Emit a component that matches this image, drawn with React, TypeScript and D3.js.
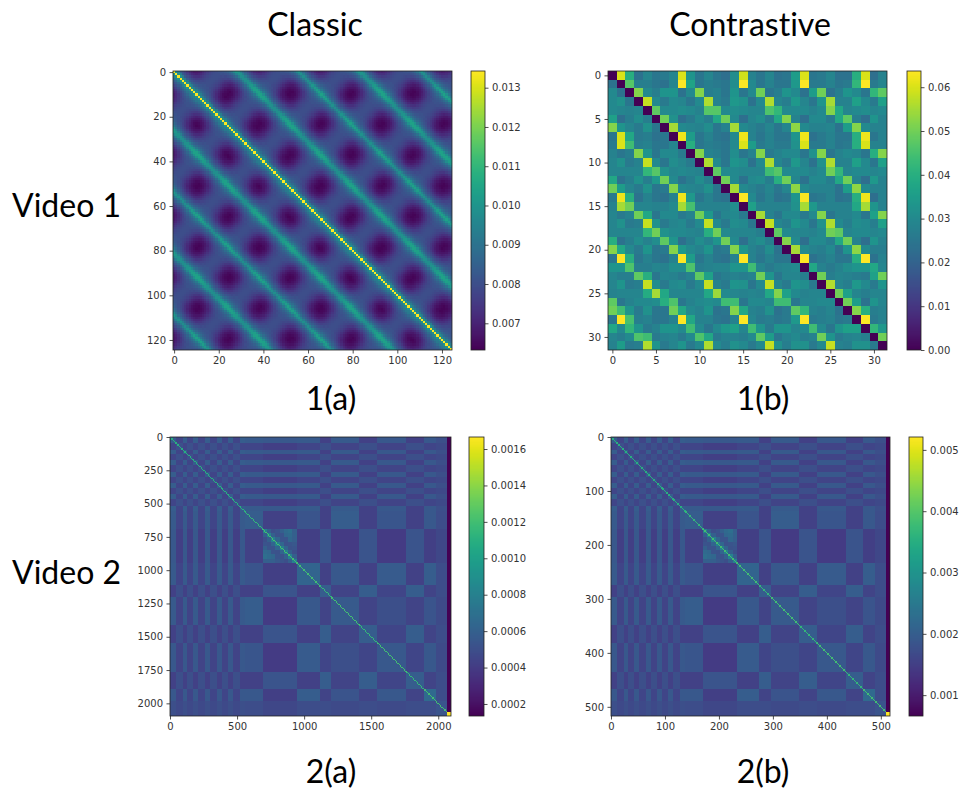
import React, { useEffect, useRef } from 'react';
import * as d3 from 'd3';

// 1(a): one period of the repeating pattern, read across the lag between frames
const classicTrough = [98, 93, 87, 83, 80, 77, 74, 71, 69, 67, 66, 65, 64, 64, 64, 64, 65, 66, 67, 69, 71, 74, 77, 80, 83, 87, 93, 98];
const classicRidge = [104, 99, 92, 88, 85, 83, 82, 81, 81, 80, 80, 80, 80, 80, 80, 80, 80, 80, 80, 81, 81, 82, 83, 85, 88, 92, 99, 104];
const classicSumWeight = [0, 0.02, 0.06, 0.13, 0.22, 0.33, 0.45, 0.58, 0.7, 0.8, 0.88, 0.94, 0.98, 1, 1, 0.98, 0.94, 0.88, 0.8, 0.7, 0.58, 0.45, 0.33, 0.22, 0.13, 0.06, 0.02, 0];
const classicMainLag = [136, 99, 93];

// 1(b): read cell by cell, in units of 0.001
const contrastiveRows = [
  [0, 60, 40, 24, 29, 25, 26, 29, 60, 33, 25, 29, 25, 23, 31, 59, 28, 25, 29, 24, 25, 35, 60, 25, 26, 29, 24, 24, 40, 60, 23, 28],
  [24, 0, 47, 27, 27, 25, 24, 29, 64, 37, 25, 27, 26, 25, 31, 64, 30, 25, 28, 25, 25, 34, 64, 26, 26, 28, 25, 26, 42, 64, 26, 29],
  [30, 24, 0, 52, 30, 27, 33, 33, 24, 30, 52, 27, 28, 25, 33, 25, 30, 50, 25, 27, 33, 30, 24, 35, 50, 24, 27, 33, 30, 25, 42, 48],
  [30, 32, 25, 0, 58, 30, 26, 30, 29, 25, 30, 56, 28, 26, 34, 32, 24, 30, 56, 29, 27, 34, 29, 25, 33, 55, 28, 28, 36, 30, 26, 36],
  [30, 29, 28, 29, 0, 48, 30, 30, 31, 30, 28, 47, 47, 30, 31, 30, 29, 29, 46, 42, 30, 30, 30, 28, 30, 52, 38, 29, 30, 31, 29, 30],
  [36, 23, 27, 31, 27, 0, 50, 32, 23, 26, 30, 27, 38, 50, 30, 23, 29, 31, 26, 38, 52, 28, 23, 30, 30, 26, 38, 48, 27, 23, 33, 28],
  [52, 33, 29, 26, 32, 25, 0, 55, 30, 29, 28, 31, 25, 28, 55, 30, 28, 26, 29, 25, 29, 53, 30, 28, 28, 29, 24, 35, 52, 30, 28, 28],
  [25, 60, 38, 26, 27, 24, 25, 0, 62, 35, 25, 28, 25, 24, 30, 62, 28, 25, 28, 25, 25, 33, 62, 24, 26, 28, 25, 25, 40, 62, 25, 28],
  [26, 60, 44, 27, 28, 25, 25, 29, 0, 40, 25, 27, 26, 25, 30, 60, 35, 26, 28, 26, 26, 32, 60, 26, 26, 28, 25, 26, 40, 60, 28, 28],
  [28, 25, 27, 52, 33, 25, 30, 30, 26, 0, 52, 28, 27, 25, 31, 25, 28, 52, 26, 28, 30, 30, 25, 32, 52, 25, 28, 30, 29, 25, 40, 52],
  [29, 32, 26, 28, 58, 30, 25, 31, 29, 26, 0, 56, 30, 25, 33, 31, 24, 30, 56, 29, 26, 34, 29, 24, 32, 56, 28, 28, 36, 30, 25, 36],
  [29, 29, 29, 29, 42, 47, 32, 29, 30, 29, 28, 0, 48, 30, 30, 29, 29, 29, 44, 47, 30, 30, 30, 28, 30, 50, 42, 29, 30, 30, 29, 30],
  [38, 24, 27, 32, 27, 34, 50, 30, 24, 27, 31, 27, 0, 50, 30, 24, 30, 31, 27, 40, 50, 29, 24, 30, 30, 27, 38, 50, 28, 23, 34, 28],
  [50, 35, 29, 26, 32, 25, 26, 52, 30, 29, 28, 32, 25, 0, 55, 30, 28, 26, 29, 25, 29, 53, 30, 28, 28, 28, 24, 35, 53, 30, 28, 28],
  [26, 62, 40, 24, 28, 25, 24, 28, 62, 34, 25, 28, 25, 24, 0, 64, 30, 25, 28, 24, 25, 33, 63, 25, 26, 28, 24, 25, 40, 62, 23, 28],
  [28, 55, 50, 29, 29, 28, 28, 30, 55, 45, 28, 28, 28, 28, 31, 0, 36, 28, 28, 28, 28, 32, 55, 34, 28, 28, 28, 28, 38, 55, 33, 28],
  [29, 26, 28, 50, 38, 25, 30, 30, 26, 28, 50, 34, 25, 29, 30, 26, 0, 55, 28, 25, 30, 30, 26, 30, 52, 25, 28, 28, 30, 25, 36, 52],
  [29, 32, 26, 27, 58, 32, 26, 29, 30, 26, 30, 58, 30, 26, 31, 30, 25, 0, 58, 29, 27, 33, 30, 25, 32, 56, 30, 27, 31, 30, 27, 36],
  [29, 29, 29, 29, 42, 50, 32, 30, 30, 29, 28, 40, 50, 30, 29, 29, 29, 27, 0, 48, 30, 29, 29, 28, 30, 50, 48, 29, 30, 30, 29, 30],
  [40, 24, 27, 31, 28, 31, 48, 33, 23, 27, 31, 28, 33, 50, 30, 23, 29, 31, 27, 0, 52, 30, 23, 30, 30, 27, 38, 50, 28, 23, 33, 28],
  [52, 38, 30, 26, 33, 25, 26, 52, 34, 30, 28, 33, 25, 26, 52, 33, 28, 26, 31, 24, 0, 55, 30, 28, 27, 30, 24, 33, 53, 30, 27, 27],
  [25, 64, 40, 25, 28, 25, 24, 28, 64, 35, 25, 28, 25, 24, 28, 64, 28, 25, 28, 25, 25, 0, 64, 24, 26, 28, 25, 25, 40, 64, 24, 28],
  [33, 33, 46, 27, 27, 29, 28, 31, 31, 46, 27, 28, 29, 29, 33, 33, 44, 29, 26, 28, 29, 30, 0, 38, 28, 26, 28, 31, 33, 33, 38, 29],
  [29, 27, 27, 48, 40, 25, 29, 28, 26, 28, 48, 36, 25, 27, 28, 27, 28, 50, 33, 25, 29, 29, 27, 0, 50, 27, 29, 28, 27, 26, 36, 50],
  [29, 33, 26, 27, 58, 31, 26, 30, 31, 26, 30, 58, 28, 26, 33, 32, 25, 30, 58, 29, 26, 33, 31, 26, 0, 56, 29, 27, 34, 30, 26, 33],
  [28, 29, 29, 29, 39, 55, 38, 29, 29, 29, 29, 38, 54, 30, 29, 28, 29, 28, 38, 52, 36, 30, 28, 29, 29, 0, 50, 36, 29, 27, 29, 29],
  [48, 25, 28, 30, 30, 31, 40, 46, 25, 28, 30, 31, 30, 44, 44, 25, 30, 30, 29, 44, 44, 25, 29, 29, 30, 30, 0, 50, 35, 24, 33, 29],
  [50, 44, 33, 26, 32, 25, 25, 50, 38, 30, 28, 33, 24, 25, 52, 38, 28, 27, 32, 24, 26, 48, 42, 28, 27, 29, 24, 0, 52, 40, 27, 28],
  [25, 64, 45, 27, 28, 25, 25, 28, 64, 38, 28, 28, 25, 24, 28, 64, 29, 26, 27, 25, 26, 34, 64, 26, 27, 28, 25, 26, 0, 64, 26, 28],
  [38, 30, 42, 33, 26, 28, 33, 33, 30, 44, 30, 25, 30, 34, 36, 29, 44, 33, 26, 33, 33, 29, 30, 44, 30, 25, 33, 36, 36, 0, 42, 34],
  [29, 27, 30, 46, 44, 26, 28, 29, 26, 30, 46, 38, 26, 28, 28, 27, 30, 48, 35, 25, 28, 30, 27, 28, 50, 33, 26, 28, 29, 27, 0, 50],
  [28, 35, 26, 27, 56, 33, 26, 29, 33, 26, 30, 56, 30, 27, 32, 30, 26, 30, 58, 32, 27, 32, 32, 26, 30, 58, 28, 27, 32, 32, 26, 0],
];

// 2(a)/2(b): the video's segments (frame numbers on the 2(a) axis) and their classes
const segmentEnds = [45, 97, 126, 171, 208, 260, 297, 349, 386, 431, 468, 520, 557, 691, 944, 1115, 1204, 1412, 1545, 1761, 1895, 1984, 2095];
const segmentClasses = ['L', 'D', 'L', 'D', 'L', 'D', 'L', 'D', 'L', 'D', 'L', 'D', 'L', 'E', 'F', 'G', 'H', 'I', 'H', 'J', 'H', 'K', 'M'];
const classNames = ['L', 'D', 'E', 'F', 'G', 'H', 'I', 'J', 'K', 'M'];
// class against class, in units of 0.0001 on the 2(a) colour bar
const classLevels = [
  [5.8, 4.5, 5.6, 5.5, 5.6, 4.3, 5.6, 5.5, 5.5, 5.0],
  [4.5, 5.1, 4.5, 4.2, 4.5, 5.0, 4.4, 4.4, 4.5, 4.7],
  [5.6, 4.5, 5.8, 4.3, 5.3, 4.3, 5.8, 5.4, 5.5, 4.9],
  [5.5, 4.2, 4.3, 5.2, 4.2, 5.3, 4.0, 4.0, 4.2, 4.6],
  [5.6, 4.5, 5.3, 4.2, 6.2, 4.3, 5.5, 5.7, 5.8, 4.9],
  [4.3, 5.0, 4.3, 5.3, 4.3, 5.8, 4.4, 4.5, 4.4, 4.9],
  [5.6, 4.4, 5.8, 4.0, 5.5, 4.4, 5.6, 5.0, 5.3, 4.8],
  [5.5, 4.4, 5.4, 4.0, 5.7, 4.5, 5.0, 5.5, 5.5, 4.8],
  [5.5, 4.5, 5.5, 4.2, 5.8, 4.4, 5.3, 5.5, 6.6, 4.9],
  [5.0, 4.7, 4.9, 4.6, 4.9, 4.9, 4.8, 4.8, 4.9, 5.3],
];
const diagonalLevels = [11, 11, 11.5, 12, 12, 11.5, 12, 12, 12, 12];
// ring seen inside the big block F
const ringLevels = [
  [8.0, 6.0, 5.0, 5.3, 6.0, 6.6, 6.9, 5.9],
  [6.0, 8.0, 6.0, 5.2, 5.3, 6.4, 6.6, 6.0],
  [5.0, 6.0, 8.0, 6.3, 5.3, 5.3, 6.4, 5.9],
  [5.3, 5.2, 6.3, 8.0, 6.4, 5.2, 5.3, 5.5],
  [6.0, 5.3, 5.3, 6.4, 8.0, 6.3, 5.2, 5.3],
  [6.6, 6.4, 5.3, 5.2, 6.3, 8.0, 6.0, 5.0],
  [6.9, 6.6, 6.4, 5.3, 5.2, 6.0, 8.0, 5.9],
  [5.9, 6.0, 5.9, 5.5, 5.3, 5.0, 5.9, 8.0],
];
const lastColumnStart = 2066;
const lastColumnLevel = 1.3;
const lastCellLevel = 16.7;

const classicTicks = [0, 20, 40, 60, 80, 100, 120];
const contrastiveTicks = [0, 5, 10, 15, 20, 25, 30];
const video2aYTicks = [0, 250, 500, 750, 1000, 1250, 1500, 1750, 2000];
const video2aXTicks = [0, 500, 1000, 1500, 2000];
const video2bTicks = [0, 100, 200, 300, 400, 500];

const bar1aTicks = [0.007, 0.008, 0.009, 0.01, 0.011, 0.012, 0.013];
const bar1bTicks = [0, 0.01, 0.02, 0.03, 0.04, 0.05, 0.06];
const bar2aTicks = [0.0002, 0.0004, 0.0006, 0.0008, 0.001, 0.0012, 0.0014, 0.0016];
const bar2bTicks = [0.001, 0.002, 0.003, 0.004, 0.005];

const domain1a: [number, number] = [0.00632, 0.013425];
const domain1b: [number, number] = [0, 0.0637];
const domain2a: [number, number] = [0.000134, 0.001666];
const domain2b: [number, number] = [0.00066, 0.00521];

const FRAMES_2A = 2095;
const FRAMES_2B = 517;
const TICK_FONT = '"DejaVu Sans", sans-serif';
const LABEL_FONT = 'Lato, sans-serif';

type Cell = { x0: number; x1: number; y0: number; y1: number; v: number };

function classicCells(): Cell[] {
  const cells: Cell[] = [];
  const period = 27.5;
  for (let y = 0; y < 125; y++) {
    for (let x = 0; x < 125; x++) {
      const lag = x - y;
      const lagOffset = Math.abs(lag) > 14 ? 1.5 : 0;
      const lagPhase = ((lag - lagOffset) % period + period) % period;
      const sumPhase = ((x + y - 7) % period + period) % period;
      const l = Math.round(lagPhase) % 28;
      const s = Math.round(sumPhase) % 28;
      let v = classicTrough[l] + (classicRidge[l] - classicTrough[l]) * classicSumWeight[s];
      if (Math.abs(lag) < classicMainLag.length) v = classicMainLag[Math.abs(lag)];
      cells.push({ x0: x - 0.5, x1: x + 0.5, y0: y - 0.5, y1: y + 0.5, v: v / 10000 });
    }
  }
  return cells;
}

function contrastiveCells(): Cell[] {
  const cells: Cell[] = [];
  contrastiveRows.forEach((row, y) => {
    row.forEach((v, x) => {
      cells.push({ x0: x - 0.5, x1: x + 0.5, y0: y - 0.5, y1: y + 0.5, v: v / 1000 });
    });
  });
  return cells;
}

// blocks of one panel, always in 2(a) levels; `scaleFrames` maps 2(a) frames to the panel's
function videoCells(scaleFrames: (f: number) => number, toValue: (level: number) => number, diagWidth: number): Cell[] {
  const cells: Cell[] = [];
  const starts = [0, ...segmentEnds.slice(0, -1)];
  const colEnd = (f: number) => Math.min(f, lastColumnStart);
  segmentClasses.forEach((rowClass, r) => {
    const ri = classNames.indexOf(rowClass);
    segmentClasses.forEach((colClass, c) => {
      const ci = classNames.indexOf(colClass);
      if (rowClass === 'F' && colClass === 'F') {
        const step = (segmentEnds[r] - starts[r]) / ringLevels.length;
        ringLevels.forEach((ringRow, a) => {
          ringRow.forEach((level, b) => {
            cells.push({
              x0: scaleFrames(starts[c] + b * step),
              x1: scaleFrames(starts[c] + (b + 1) * step),
              y0: scaleFrames(starts[r] + a * step),
              y1: scaleFrames(starts[r] + (a + 1) * step),
              v: toValue(level),
            });
          });
        });
        return;
      }
      cells.push({
        x0: scaleFrames(starts[c]),
        x1: scaleFrames(colEnd(segmentEnds[c])),
        y0: scaleFrames(starts[r]),
        y1: scaleFrames(segmentEnds[r]),
        v: toValue(classLevels[ri][ci]),
      });
    });
  });
  // the diagonal, as a staircase of small cells
  segmentClasses.forEach((cls, r) => {
    const level = diagonalLevels[classNames.indexOf(cls)];
    for (let f = starts[r]; f < Math.min(segmentEnds[r], lastColumnStart); f += diagWidth) {
      cells.push({
        x0: scaleFrames(f),
        x1: scaleFrames(f + diagWidth),
        y0: scaleFrames(f),
        y1: scaleFrames(f + diagWidth),
        v: toValue(level),
      });
    }
  });
  cells.push({
    x0: scaleFrames(lastColumnStart),
    x1: scaleFrames(FRAMES_2A),
    y0: 0,
    y1: scaleFrames(FRAMES_2A),
    v: toValue(lastColumnLevel),
  });
  cells.push({
    x0: scaleFrames(lastColumnStart),
    x1: scaleFrames(FRAMES_2A),
    y0: scaleFrames(lastColumnStart),
    y1: scaleFrames(FRAMES_2A),
    v: toValue(lastCellLevel),
  });
  return cells;
}

function Axis({ scale, orient, ticks, x, y, format }: any) {
  const ref = useRef<SVGGElement>(null);
  useEffect(() => {
    const maker = orient === 'left' ? d3.axisLeft(scale) : orient === 'right' ? d3.axisRight(scale) : d3.axisBottom(scale);
    const g = d3.select(ref.current);
    g.call(maker.tickValues(ticks).tickSize(3.5).tickPadding(3.5).tickSizeOuter(0).tickFormat(format) as any);
    g.select('.domain').remove();
    g.selectAll('line').attr('stroke', '#222').attr('stroke-width', 0.8);
    g.selectAll('text').attr('fill', '#333').attr('font-family', TICK_FONT).attr('font-size', 10);
  }, []);
  return <g ref={ref} transform={`translate(${x},${y})`} />;
}

function Heatmap({ id, cells, domain, box, xDomain, xTicks, yTicks, bar, barTicks, barFormat }: any) {
  const color = d3.scaleSequential(d3.interpolateViridis).domain(domain);
  const x = d3.scaleLinear().domain(xDomain).range([box.left, box.right]);
  const y = d3.scaleLinear().domain(xDomain).range([box.top, box.bottom]);
  const barY = d3.scaleLinear().domain(domain).range([box.bottom, box.top]);
  const steps = d3.range(0, box.bottom - box.top);
  return (
    <g>
      <clipPath id={`clip-${id}`}>
        <rect x={box.left} y={box.top} width={box.right - box.left} height={box.bottom - box.top} />
      </clipPath>
      <g clipPath={`url(#clip-${id})`}>
        <g filter="url(#soften)" shapeRendering="crispEdges">
          {cells.map((d: Cell, i: number) => (
            <rect
              key={i}
              x={x(d.x0)}
              y={y(d.y0)}
              width={x(d.x1) - x(d.x0)}
              height={y(d.y1) - y(d.y0)}
              fill={color(d.v)}
            />
          ))}
        </g>
      </g>
      <rect x={box.left} y={box.top} width={box.right - box.left} height={box.bottom - box.top} fill="none" stroke="#222" strokeWidth={0.8} />
      <Axis scale={y} orient="left" ticks={yTicks} x={box.left} y={0} format={d3.format('d')} />
      <Axis scale={x} orient="bottom" ticks={xTicks} x={0} y={box.bottom} format={d3.format('d')} />
      <g shapeRendering="crispEdges">
        {steps.map((s) => (
          <rect
            key={s}
            x={bar.left}
            y={box.top + s}
            width={bar.right - bar.left}
            height={1}
            fill={color(barY.invert(box.top + s + 0.5))}
          />
        ))}
      </g>
      <rect x={bar.left} y={box.top} width={bar.right - bar.left} height={box.bottom - box.top} fill="none" stroke="#222" strokeWidth={0.8} />
      <Axis scale={barY} orient="right" ticks={barTicks} x={bar.right} y={0} format={barFormat} />
    </g>
  );
}

function Label({ x, y, anchor = 'middle', children }: any) {
  return (
    <text x={x} y={y} textAnchor={anchor} fontFamily={LABEL_FONT} fontSize={32} fill="#000" style={{ fontVariantLigatures: 'none' }}>
      {children}
    </text>
  );
}

export default function App() {
  // 2(b) shows the same video, so its levels are the 2(a) levels moved to its own colour bar
  const frames2a = (f: number) => f;
  const frames2b = d3.scaleLinear().domain([0, FRAMES_2A]).range([0, FRAMES_2B]);
  const to2a = (level: number) => level / 10000;
  const to2b = d3.scaleLinear().domain(domain2a).range(domain2b);
  const level2b = (level: number) => to2b(level / 10000);

  return (
    <svg width={960} height={789} style={{ position: 'absolute', left: 0, top: 0 }}>
      <defs>
        <filter id="soften" x="0" y="0" width="1" height="1" colorInterpolationFilters="sRGB">
          <feGaussianBlur stdDeviation={0.65} />
        </filter>
      </defs>
      <Label x={315} y={36}>Classic</Label>
      <Label x={750} y={36}>Contrastive</Label>
      <Label x={12} y={217} anchor="start">Video 1</Label>
      <Label x={12} y={584} anchor="start">Video 2</Label>
      <Label x={331} y={410}>1(a)</Label>
      <Label x={763} y={410}>1(b)</Label>
      <Label x={331} y={783}>2(a)</Label>
      <Label x={763} y={783}>2(b)</Label>

      <Heatmap
        id="a1"
        cells={classicCells()}
        domain={domain1a}
        box={{ left: 173, right: 452, top: 71, bottom: 350 }}
        xDomain={[-0.5, 124.5]}
        xTicks={classicTicks}
        yTicks={classicTicks}
        bar={{ left: 471, right: 485 }}
        barTicks={bar1aTicks}
        barFormat={d3.format('.3f')}
      />
      <Heatmap
        id="b1"
        cells={contrastiveCells()}
        domain={domain1b}
        box={{ left: 608, right: 887, top: 71, bottom: 350 }}
        xDomain={[-0.5, 31.5]}
        xTicks={contrastiveTicks}
        yTicks={contrastiveTicks}
        bar={{ left: 907, right: 921 }}
        barTicks={bar1bTicks}
        barFormat={d3.format('.2f')}
      />
      <Heatmap
        id="a2"
        cells={videoCells(frames2a, to2a, 10)}
        domain={domain2a}
        box={{ left: 170, right: 451, top: 437, bottom: 716 }}
        xDomain={[0, FRAMES_2A]}
        xTicks={video2aXTicks}
        yTicks={video2aYTicks}
        bar={{ left: 469, right: 484 }}
        barTicks={bar2aTicks}
        barFormat={d3.format('.4f')}
      />
      <Heatmap
        id="b2"
        cells={videoCells(frames2b, level2b, 10)}
        domain={domain2b}
        box={{ left: 611, right: 890, top: 437, bottom: 716 }}
        xDomain={[0, FRAMES_2B]}
        xTicks={video2bTicks}
        yTicks={video2bTicks}
        bar={{ left: 909, right: 923 }}
        barTicks={bar2bTicks}
        barFormat={d3.format('.3f')}
      />
    </svg>
  );
}
